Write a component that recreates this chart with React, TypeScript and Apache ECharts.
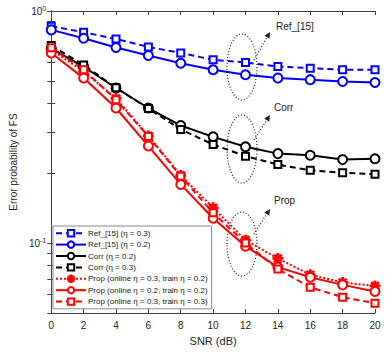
import React, { useEffect, useRef } from "react";
import * as echarts from "echarts";

const snr = [0, 2, 4, 6, 8, 10, 12, 14, 16, 18, 20];
const ref03 = [0.86, 0.81, 0.758, 0.70, 0.66, 0.616, 0.60, 0.577, 0.567, 0.558, 0.558];
const ref02 = [0.829, 0.763, 0.696, 0.643, 0.596, 0.558, 0.531, 0.514, 0.506, 0.497, 0.492];
const corr02 = [0.69, 0.575, 0.466, 0.382, 0.321, 0.287, 0.26, 0.243, 0.239, 0.229, 0.231];
const corr03 = [0.71, 0.586, 0.467, 0.38, 0.309, 0.266, 0.237, 0.218, 0.206, 0.201, 0.198];
const propOn03Tr02 = [0.68, 0.55, 0.42, 0.29, 0.196, 0.142, 0.103, 0.0859, 0.0731, 0.0677, 0.0654];
const propOn02Tr02 = [0.659, 0.514, 0.382, 0.262, 0.179, 0.128, 0.097, 0.0788, 0.0713, 0.0661, 0.0619];
const propOn03Tr03 = [0.694, 0.558, 0.415, 0.288, 0.194, 0.135, 0.1, 0.0773, 0.0645, 0.0585, 0.0551];

const yTicks = [0.05, 0.06, 0.07, 0.08, 0.09, 0.1, 0.2, 0.3, 0.4, 0.5, 0.6, 0.7, 0.8, 0.9, 1];
const yLabels = [0.1, 1];

const names = [
  "Ref_[15] (η = 0.3)",
  "Ref_[15] (η = 0.2)",
  "Corr (η = 0.2)",
  "Corr (η = 0.3)",
  "Prop (online η = 0.3, train η = 0.2)",
  "Prop (online η = 0.2, train η = 0.2)",
  "Prop (online η = 0.3, train η = 0.3)",
];

const ASTERISK =
  "path://M-1,-10 L1,-10 L1,10 L-1,10 Z M-10,-1 L10,-1 L10,1 L-10,1 Z M-6.36,-7.78 L7.78,6.36 L6.36,7.78 L-7.78,-6.36 Z M6.36,-7.78 L7.78,-6.36 L-6.36,7.78 L-7.78,6.36 Z";

const FONT = "Liberation Sans";
const AXIS = "#404040";

function arrow(x1: number, y1: number, x2: number, y2: number) {
  const ang = Math.atan2(y2 - y1, x2 - x1);
  const L = 6, W = 3;
  const bx = x2 - L * Math.cos(ang), by = y2 - L * Math.sin(ang);
  const px = -Math.sin(ang) * W, py = Math.cos(ang) * W;
  return [
    { type: "line", shape: { x1, y1, x2: bx, y2: by }, style: { stroke: "#222", lineWidth: 1.2, lineDash: [1, 2] } },
    { type: "polygon", shape: { points: [[x2, y2], [bx + px, by + py], [bx - px, by - py]] }, style: { fill: "#222" } },
  ];
}

function ellipse(cx: number, cy: number, rx: number, ry: number) {
  return { type: "ellipse", shape: { cx, cy, rx, ry }, style: { fill: "none", stroke: "#222", lineWidth: 1.2, lineDash: [1, 2] } };
}

function label(x: number, y: number, text: string) {
  return { type: "text", x, y, style: { text, fill: "#222", font: `10px "${FONT}"`, verticalAlign: "middle" } };
}

export default function App() {
  const ref = useRef<HTMLDivElement>(null);
  useEffect(() => {
    const chart = echarts.init(ref.current!, null, { renderer: "svg" });
    const pts = (arr: number[]) => snr.map((x, i) => [x, arr[i]]);
    const mk = (name: string, data: number[], color: string, type: any, symbol: string, size: number) => ({
      name,
      type: "line",
      data: pts(data),
      symbol,
      symbolSize: size,
      lineStyle: { color, width: 2, type },
      itemStyle: { color, borderColor: color, borderWidth: 1.8 },
      showAllSymbol: true,
    });
    const yAxisBase = {
      type: "log",
      logBase: 10,
      min: 0.05,
      max: 1,
      splitLine: { show: false },
      axisLine: { show: true, lineStyle: { color: AXIS } },
      axisTick: { show: true, inside: true, length: 4, customValues: yTicks, lineStyle: { color: AXIS } },
      minorTick: { show: false },
    };
    const xAxisBase = {
      type: "value",
      min: 0,
      max: 20,
      interval: 2,
      splitLine: { show: false },
      axisLine: { show: true, lineStyle: { color: AXIS } },
      axisTick: { show: true, inside: true, length: 4, lineStyle: { color: AXIS } },
    };
    chart.setOption({
      animation: false,
      textStyle: { fontFamily: FONT },
      grid: { left: 43, right: 16, top: 11, bottom: 39, containLabel: false },
      xAxis: [
        {
          ...xAxisBase,
          position: "bottom",
          name: "SNR (dB)",
          nameLocation: "middle",
          nameGap: 22,
          nameTextStyle: { fontSize: 11, color: "#262626", fontFamily: FONT },
          axisLabel: { fontSize: 10, color: "#262626", margin: 7, fontFamily: FONT },
        },
        { ...xAxisBase, position: "top", axisLabel: { show: false } },
      ],
      yAxis: [
        {
          ...yAxisBase,
          position: "left",
          name: "Error probability of FS",
          nameLocation: "middle",
          nameGap: 27,
          nameTextStyle: { fontSize: 10, color: "#262626", fontFamily: FONT },
          axisLabel: {
            customValues: yLabels,
            margin: 5,
            color: "#262626",
            formatter: (v: number) => {
              const e = Math.round(Math.log10(v));
              return `{b|10}{s|${e}}`;
            },
            rich: {
              b: { fontSize: 10, color: "#262626", fontFamily: FONT },
              s: { fontSize: 7, color: "#262626", fontFamily: FONT, verticalAlign: "top", padding: [0, 0, 6, 0] },
            },
          },
        },
        { ...yAxisBase, position: "right", axisLabel: { show: false } },
      ],
      legend: {
        orient: "vertical",
        left: 53,
        top: 226,
        itemWidth: 30,
        itemHeight: 8,
        itemGap: 3,
        padding: [3, 4, 3, 2],
        borderColor: "#8a8a8a",
        borderWidth: 1,
        borderRadius: 0,
        backgroundColor: "#fff",
        textStyle: { fontSize: 8, color: "#222", fontFamily: FONT, padding: [0, 0, 0, -3] },
        data: names,
      },
      series: [
        mk(names[0], ref03, "#0000ff", [6, 4], "emptyRect", 7),
        mk(names[1], ref02, "#0000ff", "solid", "emptyCircle", 9),
        mk(names[2], corr02, "#000000", "solid", "emptyCircle", 9),
        mk(names[3], corr03, "#000000", [6, 4], "emptyRect", 7),
        mk(names[4], propOn03Tr02, "#ff0000", [2, 2], ASTERISK, 9),
        mk(names[5], propOn02Tr02, "#ff0000", "solid", "emptyCircle", 9),
        mk(names[6], propOn03Tr03, "#ff0000", [6, 4], "emptyRect", 7),
      ],
      graphic: [
        ellipse(242, 67, 15, 33),
        ...arrow(254, 60, 270, 32),
        label(276, 26, "Ref_[15]"),
        ellipse(242, 149, 15, 34),
        ...arrow(254, 140, 270, 115),
        label(274, 107, "Corr"),
        ellipse(242, 244, 15, 32),
        ...arrow(254, 234, 270, 209),
        label(274, 200, "Prop"),
      ],
    });
    return () => chart.dispose();
  }, []);
  return <div ref={ref} style={{ position: "absolute", left: 0, top: 0, width: 391, height: 352 }} />;
}
